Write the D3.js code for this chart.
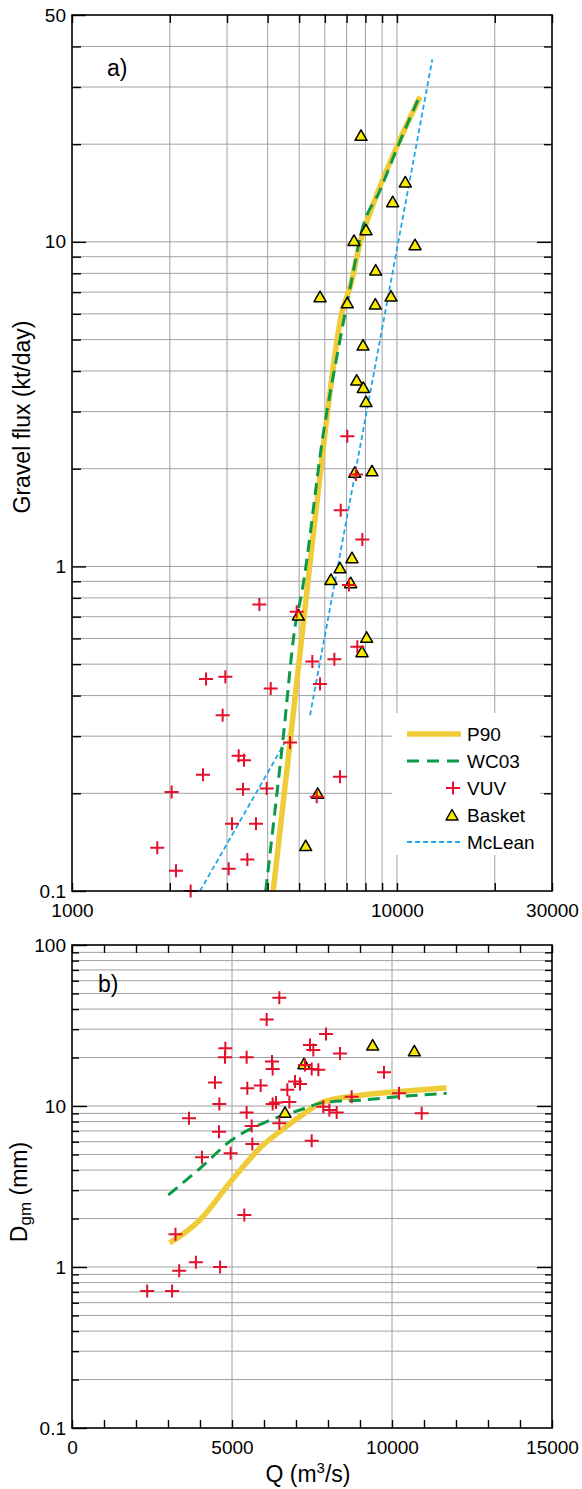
<!DOCTYPE html>
<html><head><meta charset="utf-8">
<script src="https://cdn.jsdelivr.net/npm/d3@7"></script>
<style>body{margin:0;background:#fff}svg{display:block}</style>
</head><body><svg id="c" width="582" height="1489"></svg>
<script>
// ---------- DATA (panel a: gravel flux, kt/day vs Q, m3/s) ----------
const vuvFlux = [[7035,2.52],[7482,1.92],[6713,1.49],[7824,1.21],[7118,0.876],[4914,0.725],[7551,0.566],
  [5491,0.509],[6418,0.518],[5798,0.434],[4688,0.287],[6678,0.225],[5663,0.195],[3772,0.764],[2585,0.45],
  [2964,0.457],[4088,0.421],[2908,0.348],[3258,0.261],[3383,0.253],[2530,0.228],[2026,0.202],[3359,0.206],
  [3973,0.207],[3107,0.161],[3683,0.161],[1830,0.136],[3464,0.125],[2089,0.1155],[3035,0.117],[2318,0.1]];
const basketFlux = [[7750,21.3],[10610,15.3],[9703,13.3],[8030,10.9],[7375,10.1],[11366,9.8],[8600,8.19],
  [5798,6.78],[7035,6.49],[8578,6.43],[9587,6.81],[7863,4.81],[7517,3.75],[7880,3.56],[8030,3.22],[7413,1.95],
  [8378,1.97],[7271,1.064],[6678,0.99],[6266,0.912],[7204,0.891],[4972,0.708],[8068,0.605],[7806,0.546],
  [5702,0.2],[5237,0.138]];
const p90Flux = [[4160,0.1],[4690,0.288],[5275,0.826],[5936,2.34],[6760,6.02],[7200,7.35],[7695,9.9],
  [7973,11.1],[8868,14.8],[9980,19.6],[11777,28]];
const wc03Flux = [[3945,0.1],[4469,0.299],[4857,0.652],[5091,0.826],[5936,2.57],[6678,4.98],[7254,7.63],
  [7788,10.8],[8868,14.4],[9980,19.3],[11645,27.6]];
const mcleanFlux = [[2477,0.1],[4523,0.287],null,[5402,0.348],[12848,36.5]];
const fluxXTicks = [1000,2000,3000,4000,5000,6000,7000,8000,9000,10000,20000,30000];
const fluxXLabels = [1000,10000,30000];
const fluxYMinor = [0.2,0.3,0.4,0.5,0.6,0.7,0.8,0.9,2,3,4,5,6,7,8,9,20,30,40];
const fluxYLabels = [0.1,1,10,50];

// ---------- DATA (panel b: Dgm, mm vs Q, m3/s) ----------
const vuvDgm = [[6479,47.1],[6083,34.5],[4792,22.8],[4781,20.1],[5458,20.1],[6250,18.9],[6271,17.0],
  [4469,14.0],[5479,12.9],[5896,13.4],[6729,12.6],[6969,14.2],[4604,10.3],[6271,10.3],[6375,10.5],[6792,10.6],
  [5458,9.1],[3656,8.38],[5615,7.51],[6479,7.81],[4594,6.93],[5635,5.81],[4063,4.8],[4958,5.08],[5385,2.1],
  [7938,28.0],[7438,23.9],[7541,22.3],[8375,21.2],[7281,18.0],[7490,17.0],[7698,16.8],[9750,16.2],[7125,13.7],
  [8740,11.4],[10219,12.0],[7854,9.9],[8042,9.45],[8271,9.1],[10927,9.0],[7490,6.09],[3234,1.6],[3872,1.07],
  [3350,0.948],[4628,1.0],[2350,0.71],[3128,0.71]];
const basketDgm = [[6656,9.14],[7250,18.3],[9396,23.9],[10698,22.0]];
const p90Dgm = [[3050,1.41],[4000,1.96],[5000,3.47],[6000,5.8],[6500,6.95],[7125,8.6],[7850,10.6],
  [9100,11.7],[10450,12.4],[11700,13.0]];
const wc03Dgm = [[3010,2.8],[4000,4.1],[4990,6.15],[6083,8.0],[7125,9.45],[7854,10.5],[9104,10.9],
  [10146,11.4],[11708,12.0]];
const dgmXTicks = [0,1000,2000,3000,4000,5000,6000,7000,8000,9000,10000,11000,12000,13000,14000,15000];
const dgmXLabels = [0,5000,10000,15000];
const dgmYMinor = [0.2,0.3,0.4,0.5,0.6,0.7,0.8,0.9,2,3,4,5,6,7,8,9,20,30,40,50,60,70,80,90];
const dgmYLabels = [0.1,1,10,100];

const legendItems = ["P90","WC03","VUV","Basket","McLean"];

// ---------- STYLE ----------
const FONT = '"Liberation Sans", Arial, Helvetica, sans-serif';
const C_P90 = "#f0cb38", C_WC = "#0b9a47", C_VUV = "#e3102c", C_TRI = "#f7ec00", C_MC = "#1ea8e6", C_GRID = "#a0a0a0";
const crossPath = "M-7,0H7M0,-6.5V6.5";
const triPath = "M0,-5.5L6,5L-6,5Z";

const svg = d3.select("#c");

function styleAxis(g){
  g.select(".domain").remove();
  g.selectAll("line").attr("stroke","#000").attr("stroke-width",1.4);
  g.selectAll("text").attr("font-size",19).attr("font-family",FONT).attr("fill","#000");
}

function drawPanel(cfg){
  const {x, y, L, R, T, B, xGridV, yGridV} = cfg;
  const g = svg.append("g");
  const clipId = "clip" + cfg.id;
  svg.append("clipPath").attr("id", clipId).append("rect")
    .attr("x", L).attr("y", T).attr("width", R-L).attr("height", B-T);
  // gridlines
  g.append("g").selectAll("line").data(xGridV).join("line")
    .attr("x1", d=>x(d)).attr("x2", d=>x(d)).attr("y1", T).attr("y2", B)
    .attr("stroke", C_GRID).attr("stroke-width",1);
  g.append("g").selectAll("line").data(yGridV).join("line")
    .attr("y1", d=>y(d)).attr("y2", d=>y(d)).attr("x1", L).attr("x2", R)
    .attr("stroke", C_GRID).attr("stroke-width",1);
  return {g, clipId};
}

function drawSeries(g, clipId, x, y, p90, wc, mc, tri, vuv){
  const plot = g.append("g").attr("clip-path", `url(#${clipId})`);
  const line = d3.line().defined(d=>d!==null).x(d=>x(d[0])).y(d=>y(d[1]));
  const smooth = d3.line().defined(d=>d!==null).x(d=>x(d[0])).y(d=>y(d[1])).curve(d3.curveMonotoneX);
  if (mc) plot.append("path").attr("d", line(mc)).attr("fill","none").attr("stroke",C_MC)
    .attr("stroke-width",1.8).attr("stroke-dasharray","5,3");
  plot.append("path").attr("d", smooth(p90)).attr("fill","none").attr("stroke",C_P90).attr("stroke-width",5.5);
  plot.append("path").attr("d", smooth(wc)).attr("fill","none").attr("stroke",C_WC)
    .attr("stroke-width",3).attr("stroke-dasharray","12,7");
  g.append("g").selectAll("path").data(tri).join("path")
    .attr("d", triPath).attr("transform", d=>`translate(${x(d[0])},${y(d[1])})`)
    .attr("fill", C_TRI).attr("stroke","#000").attr("stroke-width",1.5).attr("stroke-linejoin","round");
  g.append("g").selectAll("path").data(vuv).join("path")
    .attr("d", crossPath).attr("transform", d=>`translate(${x(d[0])},${y(d[1])})`)
    .attr("fill","none").attr("stroke", C_VUV).attr("stroke-width",2);
}

// ================= PANEL A =================
const A = {L:72, R:552, T:15, B:891};
const xA = d3.scaleLog().domain([1000,30000]).range([A.L, A.R]);
const yA = d3.scaleLog().domain([0.1,50]).range([A.B, A.T]);
const pa = drawPanel({id:"a", x:xA, y:yA, ...A,
  xGridV: fluxXTicks.filter(d=>d>1000 && d<30000),
  yGridV: fluxYMinor.concat([1,10])});
drawSeries(pa.g, pa.clipId, xA, yA, p90Flux, wc03Flux, mcleanFlux, basketFlux, vuvFlux);

const fmt = d => String(d);
// axes panel A
pa.g.append("g").attr("transform",`translate(${A.L},0)`)
  .call(d3.axisLeft(yA).tickValues(fluxYMinor).tickSize(-9).tickFormat("")).call(styleAxis);
pa.g.append("g").attr("transform",`translate(${A.L},0)`)
  .call(d3.axisLeft(yA).tickValues(fluxYLabels).tickSize(-14).tickPadding(6).tickFormat(fmt)).call(styleAxis);
pa.g.append("g").attr("transform",`translate(${A.R},0)`)
  .call(d3.axisRight(yA).tickValues(fluxYMinor).tickSize(-8).tickFormat("")).call(styleAxis);
pa.g.append("g").attr("transform",`translate(${A.R},0)`)
  .call(d3.axisRight(yA).tickValues([1,10]).tickSize(-15).tickFormat("")).call(styleAxis);
pa.g.append("g").attr("transform",`translate(0,${A.T})`)
  .call(d3.axisTop(xA).tickValues(fluxXTicks).tickSize(-8).tickFormat("")).call(styleAxis);
pa.g.append("g").attr("transform",`translate(0,${A.B})`)
  .call(d3.axisBottom(xA).tickValues(fluxXTicks).tickSize(-8).tickPadding(13)
    .tickFormat(d=>fluxXLabels.includes(d)?String(d):"")).call(styleAxis);
pa.g.append("rect").attr("x",A.L).attr("y",A.T).attr("width",A.R-A.L).attr("height",A.B-A.T)
  .attr("fill","none").attr("stroke","#000").attr("stroke-width",1.6);

pa.g.append("text").attr("x",107).attr("y",76).attr("font-size",23).attr("font-family",FONT).text("a)");
pa.g.append("text").attr("transform","translate(30,417) rotate(-90)").attr("text-anchor","middle")
  .attr("font-size",23).attr("font-family",FONT).text("Gravel flux (kt/day)");

// legend
const lg = pa.g.append("g");
lg.append("rect").attr("x",392).attr("y",713).attr("width",148).attr("height",142).attr("fill","#fff");
const ly = i => 734 + i*27;
legendItems.forEach((name,i)=>{
  lg.append("text").attr("x",467).attr("y",ly(i)).attr("dy","0.36em").attr("font-size",19)
    .attr("font-family",FONT).text(name);
});
lg.append("line").attr("x1",407).attr("x2",461).attr("y1",ly(0)).attr("y2",ly(0)).attr("stroke",C_P90).attr("stroke-width",5.5);
lg.append("line").attr("x1",407).attr("x2",461).attr("y1",ly(1)).attr("y2",ly(1)).attr("stroke",C_WC).attr("stroke-width",3).attr("stroke-dasharray","12,8");
lg.append("path").attr("d",crossPath).attr("transform",`translate(453,${ly(2)})`).attr("stroke",C_VUV).attr("stroke-width",2).attr("fill","none");
lg.append("path").attr("d",triPath).attr("transform",`translate(452,${ly(3)})`).attr("fill",C_TRI).attr("stroke","#000").attr("stroke-width",1.5).attr("stroke-linejoin","round");
lg.append("line").attr("x1",407).attr("x2",461).attr("y1",ly(4)).attr("y2",ly(4)).attr("stroke",C_MC).attr("stroke-width",1.8).attr("stroke-dasharray","5,3");

// ================= PANEL B =================
const Bp = {L:72, R:552, T:945, B:1428};
const xB = d3.scaleLinear().domain([0,15000]).range([Bp.L, Bp.R]);
const yB = d3.scaleLog().domain([0.1,100]).range([Bp.B, Bp.T]);
const pb = drawPanel({id:"b", x:xB, y:yB, ...Bp,
  xGridV: [5000,10000],
  yGridV: dgmYMinor.concat([1,10])});
drawSeries(pb.g, pb.clipId, xB, yB, p90Dgm, wc03Dgm, null, basketDgm, vuvDgm);

pb.g.append("g").attr("transform",`translate(${Bp.L},0)`)
  .call(d3.axisLeft(yB).tickValues(dgmYMinor).tickSize(-7).tickFormat("")).call(styleAxis);
pb.g.append("g").attr("transform",`translate(${Bp.L},0)`)
  .call(d3.axisLeft(yB).tickValues(dgmYLabels).tickSize(-15).tickPadding(6).tickFormat(fmt)).call(styleAxis);
pb.g.append("g").attr("transform",`translate(${Bp.R},0)`)
  .call(d3.axisRight(yB).tickValues(dgmYMinor).tickSize(-7).tickFormat("")).call(styleAxis);
pb.g.append("g").attr("transform",`translate(${Bp.R},0)`)
  .call(d3.axisRight(yB).tickValues([1,10]).tickSize(-15).tickFormat("")).call(styleAxis);
pb.g.append("g").attr("transform",`translate(0,${Bp.T})`)
  .call(d3.axisTop(xB).tickValues(dgmXTicks).tickSize(-8).tickFormat("")).call(styleAxis);
pb.g.append("g").attr("transform",`translate(0,${Bp.B})`)
  .call(d3.axisBottom(xB).tickValues(dgmXTicks).tickSize(-8).tickPadding(13)
    .tickFormat(d=>dgmXLabels.includes(d)?String(d):"")).call(styleAxis);
pb.g.append("rect").attr("x",Bp.L).attr("y",Bp.T).attr("width",Bp.R-Bp.L).attr("height",Bp.B-Bp.T)
  .attr("fill","none").attr("stroke","#000").attr("stroke-width",1.6);

pb.g.append("text").attr("x",98).attr("y",992).attr("font-size",23).attr("font-family",FONT).text("b)");
const yt = pb.g.append("text").attr("transform","translate(27,1192) rotate(-90)").attr("text-anchor","middle")
  .attr("font-size",23).attr("font-family",FONT);
yt.append("tspan").text("D");
yt.append("tspan").attr("font-size",17).attr("dy",4).text("gm");
yt.append("tspan").attr("dy",-4).text(" (mm)");
const xt = pb.g.append("text").attr("x",308).attr("y",1482).attr("text-anchor","middle")
  .attr("font-size",23).attr("font-family",FONT);
xt.append("tspan").text("Q (m");
xt.append("tspan").attr("font-size",15).attr("dy",-9).text("3");
xt.append("tspan").attr("dy",9).text("/s)");
</script></body></html>
